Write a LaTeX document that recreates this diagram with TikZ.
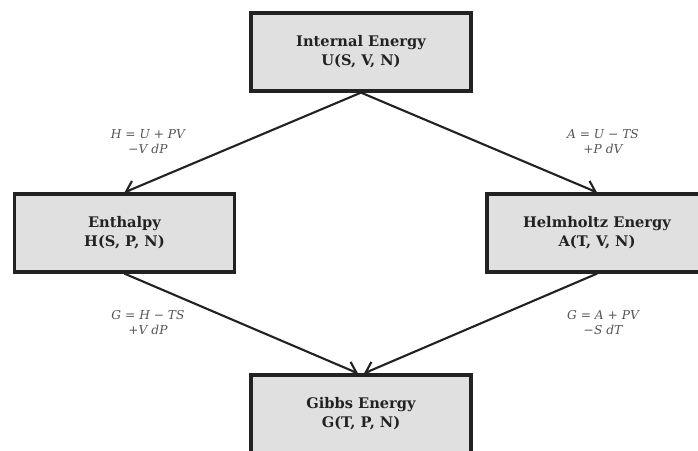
\documentclass[tikz,border=0pt]{standalone}
\usepackage{fontspec}
\setmainfont{DejaVu Serif}
\usetikzlibrary{arrows.meta}
\definecolor{boxfill}{HTML}{E0E0E0}
\definecolor{ink}{HTML}{222222}
\definecolor{labgray}{HTML}{555555}
\tikzset{
	potential/.style={draw=ink,fill=boxfill,line width=2.3pt,minimum width=5.5cm,minimum height=1.95cm,
		align=center,text=ink,font=\fontsize{10.4}{13.4}\selectfont\bfseries},
	rel/.style={align=center,text=labgray,font=\fontsize{8.7}{10.6}\selectfont\itshape},
	trans/.style={draw=ink,line width=1.5pt,-{Straight Barb[length=2.4mm,width=3.8mm]}}
}
\begin{document}
\begin{tikzpicture}[x=0.025cm,y=-0.025cm]
			\useasboundingbox (0,0) rectangle (698,451);
			\begin{scope}
			\clip (0,0) rectangle (698,451);
			\node (U) [potential] at (361,52) {Internal Energy\\U(S, V, N)};
			\node (H) [potential] at (124.5,233) {Enthalpy\\H(S, P, N)};
			\node (A) [potential] at (597,233) {Helmholtz Energy\\A(T, V, N)};
			\node (G) [potential] at (361,414) {Gibbs Energy\\G(T, P, N)};
			\end{scope}
			\node (uh) [rel] at (148,142) {H = U + PV\\−V dP};
			\node (ua) [rel] at (603,142) {A = U − TS\\+P dV};
			\node (hg) [rel] at (148,323) {G = H − TS\\+V dP};
			\node (ag) [rel] at (603,323) {G = A + PV\\−S dT};
			\draw [trans] (U.south) -- (H.north);
			\draw [trans] (U.south) -- (A.north);
			\draw [trans] (H.south) -- ([xshift=-0.075cm]G.north);
			\draw [trans] (A.south) -- ([xshift=0.075cm]G.north);
		\end{tikzpicture}
\end{document}
